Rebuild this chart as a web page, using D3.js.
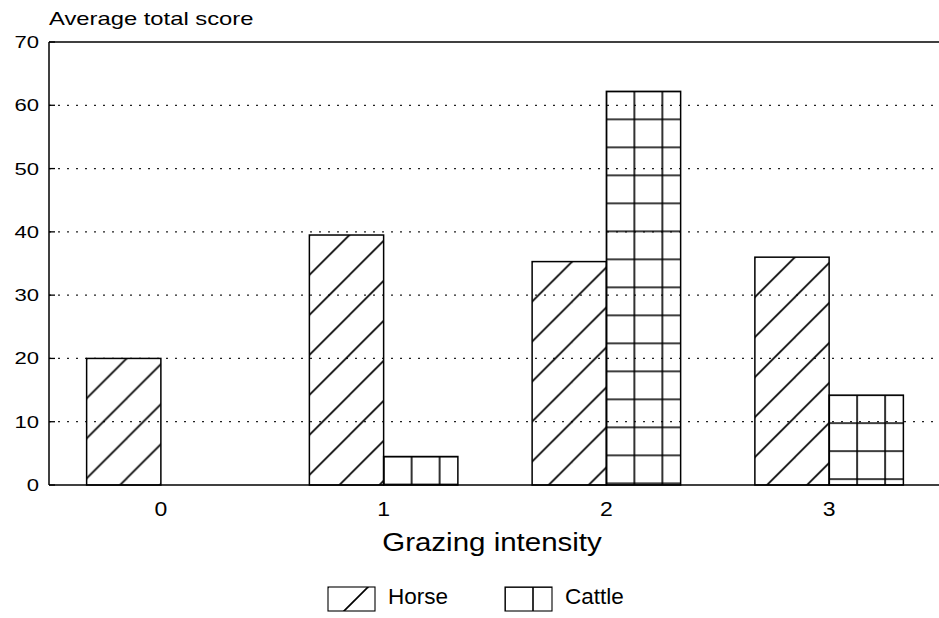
<!DOCTYPE html>
<html>
<head>
<meta charset="utf-8">
<script src="https://cdn.jsdelivr.net/npm/d3@7"></script>
<style>
  body { margin: 0; background: #fff; }
  svg { display: block; }
  text { font-family: "Liberation Sans", Arial, sans-serif; fill: #000; }
</style>
</head>
<body>
<div id="chart"></div>
<script>
const categories = ["0", "1", "2", "3"];
const horseScores = [20, 39.5, 35.3, 36];
const cattleScores = [0, 4.5, 62.2, 14.2];
const yTicks = [0, 10, 20, 30, 40, 50, 60, 70];
const seriesNames = ["Horse", "Cattle"];

const width = 939;
const height = 618;
const margin = { top: 42, right: 0, bottom: 133, left: 49 };

const svg = d3.select("#chart").append("svg").attr("width", width).attr("height", height);
const defs = svg.append("defs");

const xScale = d3.scaleBand().domain(categories).range([margin.left + 0.5, width + 1.5]).padding(0);
const yScale = d3.scaleLinear().domain([0, 70]).range([height - margin.bottom, margin.top]);
const barW = xScale.bandwidth() / 3;

// hatch patterns anchored at the top-left corner of each box
let patId = 0;
function hatch(kind, x, y) {
    const id = "pat" + (patId++);
    if (kind === "Horse") {
        const p = defs.append("pattern").attr("id", id).attr("patternUnits", "userSpaceOnUse")
            .attr("x", x).attr("y", y).attr("width", 40).attr("height", 40);
        [[-10, 10, 10, -10], [0, 40, 40, 0], [30, 50, 50, 30]].forEach(l => {
            p.append("line").attr("x1", l[0]).attr("y1", l[1]).attr("x2", l[2]).attr("y2", l[3])
                .attr("stroke", "#000").attr("stroke-width", 1.7);
        });
    } else {
        const p = defs.append("pattern").attr("id", id).attr("patternUnits", "userSpaceOnUse")
            .attr("x", x).attr("y", y).attr("width", 28).attr("height", 28);
        p.append("path").attr("d", "M0,0V28M28,0V28M0,0H28M0,28H28")
            .attr("stroke", "#000").attr("stroke-width", 1.6).attr("fill", "none");
    }
    return `url(#${id})`;
}

// gridlines
svg.append("g").selectAll("line").data(yTicks.filter(d => d > 0 && d < 70)).enter().append("line")
    .attr("x1", margin.left).attr("x2", width)
    .attr("y1", d => yScale(d)).attr("y2", d => yScale(d))
    .attr("stroke", "#222").attr("stroke-width", 1.3).attr("stroke-dasharray", "2,7");

// bars
const bars = [];
categories.forEach((c, i) => {
    bars.push({ cat: c, series: "Horse", value: horseScores[i], x: xScale(c) + xScale.bandwidth() / 2 - barW });
    bars.push({ cat: c, series: "Cattle", value: cattleScores[i], x: xScale(c) + xScale.bandwidth() / 2 });
});

svg.append("g").selectAll("rect").data(bars.filter(d => d.value > 0)).enter().append("rect")
    .attr("x", d => d.x)
    .attr("y", d => yScale(d.value))
    .attr("width", barW)
    .attr("height", d => yScale(0) - yScale(d.value))
    .attr("fill", d => hatch(d.series, d.x, yScale(d.value)))
    .attr("stroke", "#000").attr("stroke-width", 1.5);

// axes frame
svg.append("line").attr("x1", margin.left).attr("x2", width).attr("y1", yScale(70)).attr("y2", yScale(70))
    .attr("stroke", "#000").attr("stroke-width", 1.5);
svg.append("line").attr("x1", margin.left).attr("x2", width).attr("y1", yScale(0)).attr("y2", yScale(0))
    .attr("stroke", "#000").attr("stroke-width", 1.7);
svg.append("line").attr("x1", margin.left).attr("x2", margin.left).attr("y1", yScale(70)).attr("y2", yScale(0))
    .attr("stroke", "#000").attr("stroke-width", 1.5);

// y ticks
svg.append("g").selectAll("line").data(yTicks).enter().append("line")
    .attr("x1", margin.left).attr("x2", margin.left + 6)
    .attr("y1", d => yScale(d)).attr("y2", d => yScale(d))
    .attr("stroke", "#000").attr("stroke-width", 1.3);

svg.append("g").selectAll("text").data(yTicks).enter().append("text")
    .attr("transform", d => `translate(39,${yScale(d) + 6}) scale(1.3,1)`)
    .attr("text-anchor", "end").style("font-size", "17px").text(d => d);

// x tick labels
svg.append("g").selectAll("text").data(categories).enter().append("text")
    .attr("transform", d => `translate(${xScale(d) + xScale.bandwidth() / 2},516) scale(1.15,1)`)
    .attr("text-anchor", "middle").style("font-size", "20px").text(d => d);

// titles
svg.append("text").attr("transform", "translate(49,25) scale(1.36,1)")
    .style("font-size", "17.5px").text("Average total score");
svg.append("text").attr("transform", "translate(492,551) scale(1.18,1)")
    .attr("text-anchor", "middle").style("font-size", "25px").text("Grazing intensity");

// legend
const legendX = [328, 505];
const legend = svg.append("g").selectAll("g").data(seriesNames).enter().append("g");
legend.append("rect")
    .attr("x", (d, i) => legendX[i]).attr("y", 587)
    .attr("width", 47).attr("height", 24)
    .attr("fill", (d, i) => hatch(d, legendX[i], 587))
    .attr("stroke", "#000").attr("stroke-width", 1.1);
legend.append("text")
    .attr("x", (d, i) => legendX[i] + 60).attr("y", 604)
    .style("font-size", "22.5px").text(d => d);
</script>
</body>
</html>
